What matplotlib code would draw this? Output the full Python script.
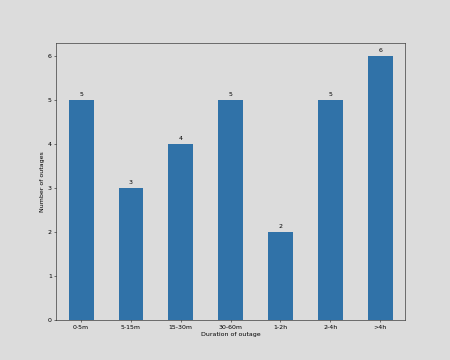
import matplotlib
matplotlib.use("Agg")
import matplotlib.pyplot as plt

durations = ["0-5m", "5-15m", "15-30m", "30-60m", "1-2h", "2-4h", ">4h"]
outages = [5, 3, 4, 5, 2, 5, 6]

fig, ax = plt.subplots(figsize=(10, 8), dpi=45)
fig.patch.set_facecolor("#dcdcdc")
ax.set_facecolor("#dcdcdc")

bars = ax.bar(durations, outages, width=0.5, color="#3072a8")
ax.bar_label(bars, padding=5)
ax.set_xlim(-0.5, len(durations) - 0.5)
ax.set_xlabel("Duration of outage")
ax.set_ylabel("Number of outages")

fig.savefig("out.png", facecolor=fig.get_facecolor())
